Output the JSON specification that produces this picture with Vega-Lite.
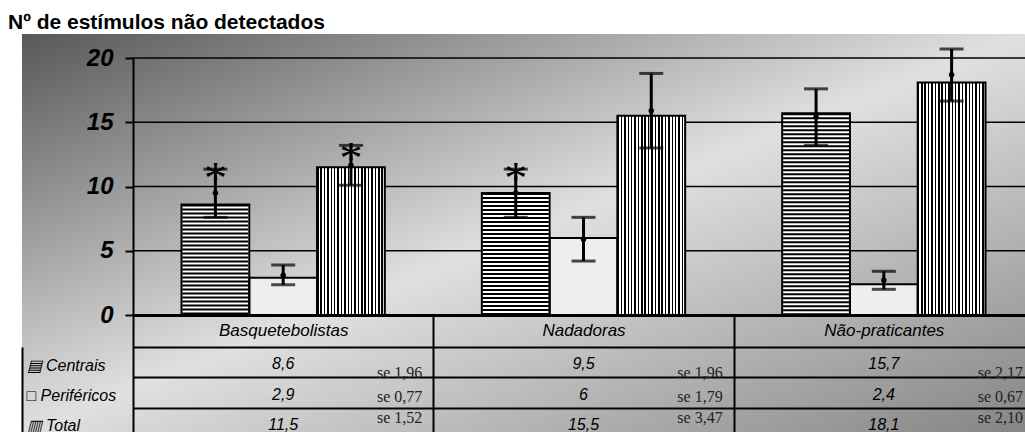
{
  "$schema": "https://vega.github.io/schema/vega-lite/v6.json",
  "width": 1003,
  "height": 398,
  "autosize": {"type": "none"},
  "padding": {"left": 22, "top": 34, "right": 0, "bottom": 0},
  "background": "white",
  "title": {
    "text": "Nº de estímulos não detectados",
    "anchor": "start",
    "frame": "group",
    "font": "Liberation Sans",
    "fontSize": 21,
    "fontWeight": "bold",
    "color": "black",
    "baseline": "alphabetic",
    "offset": 6,
    "dx": -14,
    "dy": 30
  },
  "config": {
    "locale": {"number": {"decimal": ",", "thousands": ".", "grouping": [3], "currency": ["", ""]}},
    "view": {
      "stroke": null,
      "fill": {
        "gradient": "linear",
        "x1": 0, "y1": 0, "x2": 1, "y2": 1,
        "stops": [
          {"offset": 0, "color": "#585858"},
          {"offset": 0.5, "color": "#e0e0e0"},
          {"offset": 1, "color": "#858585"}
        ]
      }
    }
  },
  "datasets": {
    "main": [
      {"group": "Basquetebolistas", "series": "Centrais", "value": 8.6, "se": 1.96, "lo": 7.6, "hi": 11.35, "mid": 9.5, "sig": "*", "sigY": 10.9},
      {"group": "Basquetebolistas", "series": "Periféricos", "value": 2.9, "se": 0.77, "lo": 2.35, "hi": 3.9, "mid": 3.1, "sig": "", "sigY": null},
      {"group": "Basquetebolistas", "series": "Total", "value": 11.5, "se": 1.52, "lo": 10.1, "hi": 13.2, "mid": 11.65, "sig": "*", "sigY": 12.45},
      {"group": "Nadadoras", "series": "Centrais", "value": 9.5, "se": 1.96, "lo": 7.6, "hi": 11.35, "mid": 9.5, "sig": "*", "sigY": 10.9},
      {"group": "Nadadoras", "series": "Periféricos", "value": 6, "se": 1.79, "lo": 4.2, "hi": 7.6, "mid": 5.9, "sig": "", "sigY": null},
      {"group": "Nadadoras", "series": "Total", "value": 15.5, "se": 3.47, "lo": 13.0, "hi": 18.8, "mid": 15.9, "sig": "", "sigY": null},
      {"group": "Não-praticantes", "series": "Centrais", "value": 15.7, "se": 2.17, "lo": 13.2, "hi": 17.6, "mid": 15.4, "sig": "", "sigY": null},
      {"group": "Não-praticantes", "series": "Periféricos", "value": 2.4, "se": 0.67, "lo": 2.0, "hi": 3.4, "mid": 2.7, "sig": "", "sigY": null},
      {"group": "Não-praticantes", "series": "Total", "value": 18.1, "se": 2.10, "lo": 16.65, "hi": 20.7, "mid": 18.7, "sig": "", "sigY": null}
    ],
    "grid": [{"gv": 5}, {"gv": 10}, {"gv": 15}, {"gv": 20}]
  },
  "resolve": {"scale": {"y": "independent"}, "axis": {"y": "independent"}},
  "layer": [
    {
      "layer": [
        {
          "data": {"name": "grid"},
          "mark": {"type": "rule", "color": "black", "strokeWidth": 1.5},
          "encoding": {
            "y": {"field": "gv", "type": "quantitative"},
            "x": {"datum": "Basquetebolistas", "type": "nominal", "bandPosition": 0},
            "x2": {"value": "width"}
          }
        },
        {
          "data": {"name": "main"},
          "mark": {"type": "bar", "strokeWidth": 0},
          "encoding": {
            "x": {
              "field": "group", "type": "nominal",
              "sort": ["Basquetebolistas", "Nadadoras", "Não-praticantes"],
              "scale": {"range": [111, 1012], "paddingInner": 0, "paddingOuter": 0},
              "axis": {
                "orient": "bottom", "offset": -117, "tickBand": "extent",
                "tickSize": 117, "tickWidth": 2, "tickColor": "black",
                "domainColor": "black", "domainWidth": 3,
                "labelAlign": "center", "labelPadding": -102, "labelAngle": 0,
                "labelFont": "Liberation Sans", "labelFontSize": 17, "labelFontStyle": "italic",
                "labelColor": "black", "title": null, "grid": false
              }
            },
            "xOffset": {
              "field": "series", "type": "nominal",
              "sort": ["Centrais", "Periféricos", "Total"],
              "scale": {"paddingInner": 0, "paddingOuter": 0.716}
            },
            "y": {
              "field": "value", "type": "quantitative",
              "scale": {"domain": [0, 20], "range": [281, 24], "nice": false},
              "axis": {
                "orient": "left", "offset": -111, "values": [0, 5, 10, 15, 20], "grid": false,
                "domainColor": "black", "domainWidth": 2,
                "tickColor": "black", "tickWidth": 2, "tickSize": 8,
                "labelFont": "Liberation Sans", "labelFontSize": 24, "labelFontStyle": "italic",
                "labelFontWeight": "bold", "labelColor": "black", "labelPadding": 12, "title": null
              }
            },
            "fill": {
              "condition": [
                {
                  "test": "datum.series == 'Total'",
                  "value": {
                    "gradient": "linear", "x1": 0, "y1": 0, "x2": 1, "y2": 0,
                    "stops": [
                      {"offset": 0, "color": "#000"}, {"offset": 0.022, "color": "#000"}, {"offset": 0.022, "color": "#fff"}, {"offset": 0.05, "color": "#fff"},
                      {"offset": 0.05, "color": "#000"}, {"offset": 0.072, "color": "#000"}, {"offset": 0.072, "color": "#fff"}, {"offset": 0.1, "color": "#fff"},
                      {"offset": 0.1, "color": "#000"}, {"offset": 0.122, "color": "#000"}, {"offset": 0.122, "color": "#fff"}, {"offset": 0.15, "color": "#fff"},
                      {"offset": 0.15, "color": "#000"}, {"offset": 0.172, "color": "#000"}, {"offset": 0.172, "color": "#fff"}, {"offset": 0.2, "color": "#fff"},
                      {"offset": 0.2, "color": "#000"}, {"offset": 0.222, "color": "#000"}, {"offset": 0.222, "color": "#fff"}, {"offset": 0.25, "color": "#fff"},
                      {"offset": 0.25, "color": "#000"}, {"offset": 0.272, "color": "#000"}, {"offset": 0.272, "color": "#fff"}, {"offset": 0.3, "color": "#fff"},
                      {"offset": 0.3, "color": "#000"}, {"offset": 0.322, "color": "#000"}, {"offset": 0.322, "color": "#fff"}, {"offset": 0.35, "color": "#fff"},
                      {"offset": 0.35, "color": "#000"}, {"offset": 0.372, "color": "#000"}, {"offset": 0.372, "color": "#fff"}, {"offset": 0.4, "color": "#fff"},
                      {"offset": 0.4, "color": "#000"}, {"offset": 0.422, "color": "#000"}, {"offset": 0.422, "color": "#fff"}, {"offset": 0.45, "color": "#fff"},
                      {"offset": 0.45, "color": "#000"}, {"offset": 0.472, "color": "#000"}, {"offset": 0.472, "color": "#fff"}, {"offset": 0.5, "color": "#fff"},
                      {"offset": 0.5, "color": "#000"}, {"offset": 0.522, "color": "#000"}, {"offset": 0.522, "color": "#fff"}, {"offset": 0.55, "color": "#fff"},
                      {"offset": 0.55, "color": "#000"}, {"offset": 0.572, "color": "#000"}, {"offset": 0.572, "color": "#fff"}, {"offset": 0.6, "color": "#fff"},
                      {"offset": 0.6, "color": "#000"}, {"offset": 0.622, "color": "#000"}, {"offset": 0.622, "color": "#fff"}, {"offset": 0.65, "color": "#fff"},
                      {"offset": 0.65, "color": "#000"}, {"offset": 0.672, "color": "#000"}, {"offset": 0.672, "color": "#fff"}, {"offset": 0.7, "color": "#fff"},
                      {"offset": 0.7, "color": "#000"}, {"offset": 0.722, "color": "#000"}, {"offset": 0.722, "color": "#fff"}, {"offset": 0.75, "color": "#fff"},
                      {"offset": 0.75, "color": "#000"}, {"offset": 0.772, "color": "#000"}, {"offset": 0.772, "color": "#fff"}, {"offset": 0.8, "color": "#fff"},
                      {"offset": 0.8, "color": "#000"}, {"offset": 0.822, "color": "#000"}, {"offset": 0.822, "color": "#fff"}, {"offset": 0.85, "color": "#fff"},
                      {"offset": 0.85, "color": "#000"}, {"offset": 0.872, "color": "#000"}, {"offset": 0.872, "color": "#fff"}, {"offset": 0.9, "color": "#fff"},
                      {"offset": 0.9, "color": "#000"}, {"offset": 0.922, "color": "#000"}, {"offset": 0.922, "color": "#fff"}, {"offset": 0.95, "color": "#fff"},
                      {"offset": 0.95, "color": "#000"}, {"offset": 0.972, "color": "#000"}, {"offset": 0.972, "color": "#fff"}, {"offset": 1, "color": "#fff"}
                    ]
                  }
                },
                {"test": "datum.series == 'Periféricos'", "value": "#eeeeee"}
              ],
              "value": "#ffffff"
            }
          }
        },
        {
          "data": {"name": "main"},
          "transform": [{"filter": "datum.series == 'Centrais'"}],
          "mark": {"type": "rule", "color": "black", "strokeWidth": 66, "strokeDash": [2, 2], "strokeCap": "butt"},
          "encoding": {
            "x": {"field": "group", "type": "nominal"},
            "xOffset": {"field": "series", "type": "nominal"},
            "y": {"field": "value", "type": "quantitative"},
            "y2": {"datum": 0}
          }
        },
        {
          "data": {"name": "main"},
          "mark": {"type": "bar", "fillOpacity": 0, "stroke": "black", "strokeWidth": 2},
          "encoding": {
            "x": {"field": "group", "type": "nominal"},
            "xOffset": {"field": "series", "type": "nominal"},
            "y": {"field": "value", "type": "quantitative"}
          }
        },
        {
          "data": {"name": "main"},
          "mark": {"type": "rule", "color": "black", "strokeWidth": 3},
          "encoding": {
            "x": {"field": "group", "type": "nominal"},
            "xOffset": {"field": "series", "type": "nominal"},
            "y": {"field": "lo", "type": "quantitative"},
            "y2": {"field": "hi"}
          }
        },
        {
          "data": {"name": "main"},
          "mark": {"type": "tick", "orient": "horizontal", "color": "black", "size": 24, "thickness": 3},
          "encoding": {
            "x": {"field": "group", "type": "nominal"},
            "xOffset": {"field": "series", "type": "nominal"},
            "y": {"field": "lo", "type": "quantitative"}
          }
        },
        {
          "data": {"name": "main"},
          "mark": {"type": "tick", "orient": "horizontal", "color": "black", "size": 24, "thickness": 3},
          "encoding": {
            "x": {"field": "group", "type": "nominal"},
            "xOffset": {"field": "series", "type": "nominal"},
            "y": {"field": "hi", "type": "quantitative"}
          }
        },
        {
          "data": {"name": "main"},
          "mark": {"type": "point", "filled": true, "color": "black", "size": 30, "opacity": 1},
          "encoding": {
            "x": {"field": "group", "type": "nominal"},
            "xOffset": {"field": "series", "type": "nominal"},
            "y": {"field": "mid", "type": "quantitative"}
          }
        },
        {
          "data": {"name": "main"},
          "transform": [{"filter": "datum.sig == '*'"}],
          "mark": {"type": "text", "font": "Liberation Serif", "fontSize": 46, "color": "black", "baseline": "alphabetic", "dy": 19},
          "encoding": {
            "x": {"field": "group", "type": "nominal"},
            "xOffset": {"field": "series", "type": "nominal"},
            "y": {"field": "sigY", "type": "quantitative"},
            "text": {"field": "sig"}
          }
        }
      ]
    },
    {
      "layer": [
        {
          "data": {"name": "main"},
          "mark": {"type": "text", "font": "Liberation Sans", "fontSize": 16, "fontStyle": "italic", "color": "black", "dy": 2},
          "encoding": {
            "x": {"field": "group", "type": "nominal"},
            "y": {
              "field": "series", "type": "nominal",
              "sort": ["Centrais", "Periféricos", "Total"],
              "scale": {"range": [313, 404], "paddingInner": 0, "paddingOuter": 0},
              "axis": {
                "orient": "left", "offset": 0, "tickBand": "extent",
                "grid": true, "gridColor": "black", "gridWidth": 2, "gridOpacity": 1,
                "ticks": false, "domainColor": "black", "domainWidth": 2,
                "labelAlign": "left", "labelPadding": -4, "labelOffset": 3,
                "labelFont": "Liberation Sans", "labelFontSize": 16, "labelFontStyle": "italic", "labelColor": "black",
                "labelExpr": "datum.value == 'Centrais' ? '▤ Centrais' : datum.value == 'Periféricos' ? '□ Periféricos' : datum.value == 'Total' ? '▥ Total' : ''",
                "title": null
              }
            },
            "text": {"field": "value", "type": "quantitative", "format": ".1~f"}
          }
        },
        {
          "data": {"name": "main"},
          "transform": [{"calculate": "'se ' + format(datum.se, '.2f')", "as": "selabel"}],
          "mark": {
            "type": "text", "font": "Liberation Serif", "fontSize": 16, "color": "#222222", "align": "right", "dx": -11,
            "dy": {"expr": "datum.series == 'Centrais' ? 11 : datum.series == 'Periféricos' ? 4 : -5"}
          },
          "encoding": {
            "x": {"field": "group", "type": "nominal", "bandPosition": 1},
            "y": {"field": "series", "type": "nominal"},
            "text": {"field": "selabel"}
          }
        }
      ]
    }
  ]
}
